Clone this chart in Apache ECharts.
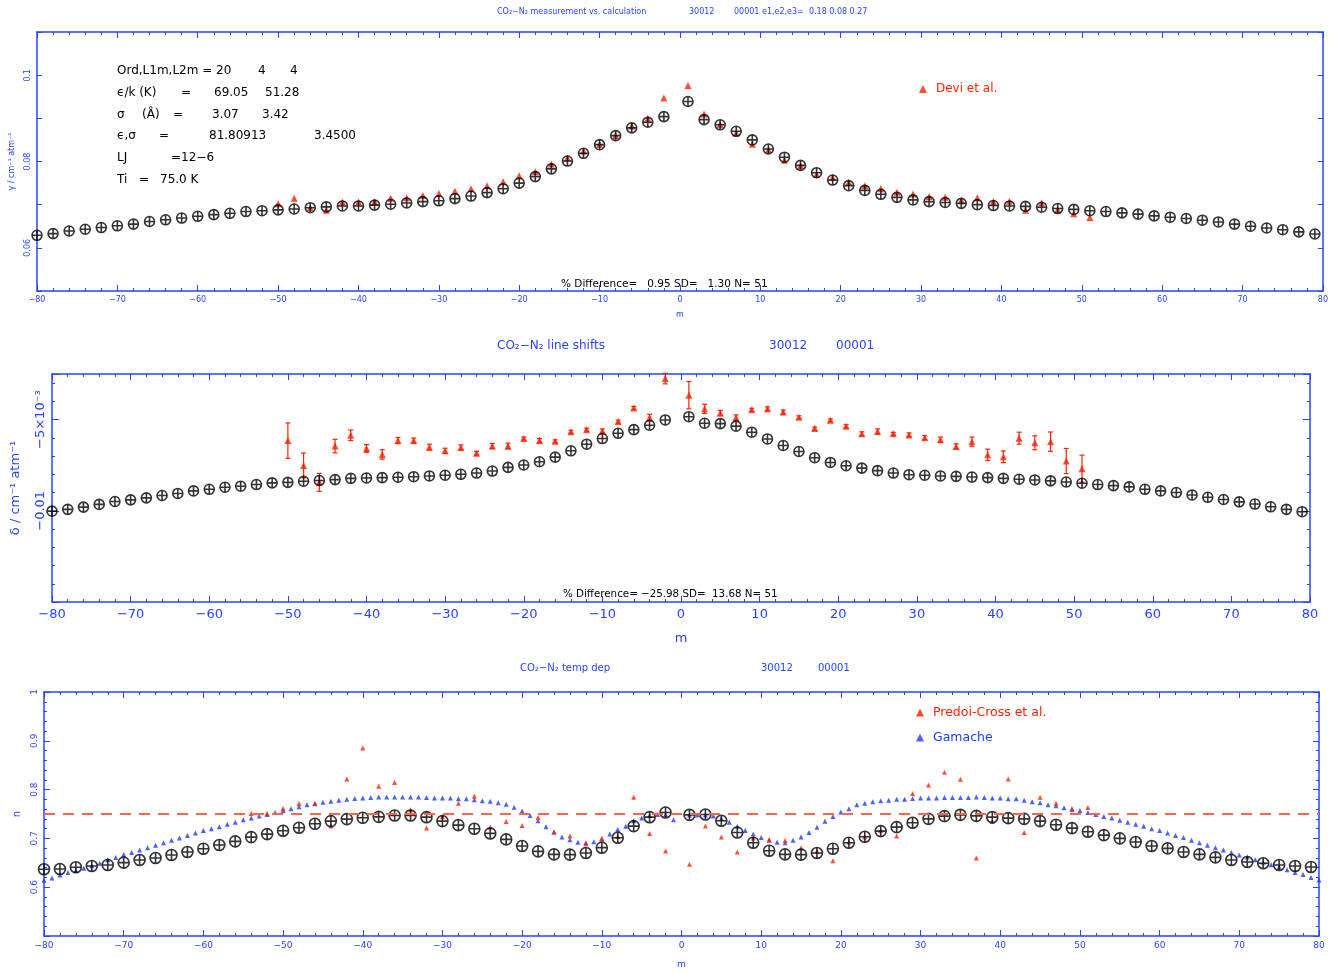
<!DOCTYPE html>
<html>
<head>
<meta charset="utf-8">
<script src="https://cdn.jsdelivr.net/npm/echarts@6/dist/echarts.min.js"></script>
<style>
html,body{margin:0;padding:0;background:#fff;}
#chart{width:1331px;height:973px;}
</style>
</head>
<body>
<div id="chart"></div>
<script>
// ---------- DATA ----------
const mCalc = [-80,-78,-76,-74,-72,-70,-68,-66,-64,-62,-60,-58,-56,-54,-52,-50,-48,-46,-44,-42,-40,-38,-36,-34,-32,-30,-28,-26,-24,-22,-20,-18,-16,-14,-12,-10,-8,-6,-4,-2,
  1,3,5,7,9,11,13,15,17,19,21,23,25,27,29,31,33,35,37,39,41,43,45,47,49,51,53,55,57,59,61,63,65,67,69,71,73,75,77,79];

const gammaCalc = [0.0629,0.0633,0.0639,0.0643,0.0647,0.0651,0.0655,0.0661,0.0665,0.0669,0.0673,0.0677,0.0680,0.0684,0.0686,0.0688,0.0690,0.0693,0.0695,0.0697,0.0697,0.0699,0.0701,0.0704,0.0707,0.0709,0.0714,0.0720,0.0728,0.0737,0.0750,0.0765,0.0783,0.0801,0.0819,0.0839,0.0860,0.0878,0.0891,0.0904,
  0.0939,0.0897,0.0885,0.0870,0.0850,0.0829,0.0810,0.0791,0.0774,0.0757,0.0744,0.0733,0.0724,0.0717,0.0711,0.0707,0.0705,0.0703,0.0700,0.0698,0.0697,0.0696,0.0694,0.0691,0.0689,0.0686,0.0684,0.0681,0.0678,0.0674,0.0671,0.0668,0.0664,0.0660,0.0655,0.0650,0.0646,0.0642,0.0637,0.0632];

const mDevi = [-50,-48,-46,-44,-42,-40,-38,-36,-34,-32,-30,-28,-26,-24,-22,-20,-18,-16,-14,-12,-10,-8,-6,-4,-2,
  1,3,5,7,9,11,13,15,17,19,21,23,25,27,29,31,33,35,37,39,41,43,45,47,49,51];

const gammaDevi = [0.0702,0.0715,0.0693,0.0687,0.0706,0.0706,0.0707,0.0715,0.0716,0.0721,0.0726,0.0731,0.0737,0.0744,0.0753,0.0767,0.0776,0.0794,0.0808,0.0824,0.0840,0.0860,0.0882,0.0900,0.0947,
  0.0976,0.0910,0.0886,0.0866,0.0840,0.0827,0.0803,0.0791,0.0770,0.0763,0.0752,0.0744,0.0737,0.0729,0.0725,0.0719,0.0717,0.0710,0.0716,0.0707,0.0708,0.0687,0.0704,0.0688,0.0679,0.0670];

const shiftCalc = [-0.01002,-0.00992,-0.00980,-0.00965,-0.00949,-0.00940,-0.00929,-0.00916,-0.00905,-0.00891,-0.00882,-0.00871,-0.00865,-0.00856,-0.00847,-0.00844,-0.00838,-0.00834,-0.00829,-0.00822,-0.00820,-0.00818,-0.00816,-0.00813,-0.00809,-0.00805,-0.00800,-0.00793,-0.00782,-0.00762,-0.00749,-0.00731,-0.00706,-0.00671,-0.00635,-0.00604,-0.00575,-0.00555,-0.00531,-0.00502,
  -0.00484,-0.00520,-0.00522,-0.00536,-0.00569,-0.00606,-0.00642,-0.00675,-0.00709,-0.00735,-0.00753,-0.00766,-0.00780,-0.00793,-0.00802,-0.00805,-0.00809,-0.00811,-0.00815,-0.00818,-0.00822,-0.00827,-0.00831,-0.00836,-0.00842,-0.00849,-0.00856,-0.00862,-0.00869,-0.00882,-0.00891,-0.00900,-0.00913,-0.00926,-0.00938,-0.00951,-0.00963,-0.00978,-0.00992,-0.01005];

const shiftDevi = [-0.00615,-0.00751,-0.00844,-0.00645,-0.00586,-0.00658,-0.00691,-0.00615,-0.00615,-0.00651,-0.00671,-0.00653,-0.00685,-0.00645,-0.00645,-0.00604,-0.00615,-0.00619,-0.00567,-0.00555,-0.00562,-0.00511,-0.00436,-0.00489,-0.00275,
  -0.00366,-0.00441,-0.00464,-0.00489,-0.00446,-0.00441,-0.00459,-0.00487,-0.00549,-0.00504,-0.00536,-0.00578,-0.00565,-0.00578,-0.00584,-0.00599,-0.00610,-0.00647,-0.00621,-0.00693,-0.00704,-0.00602,-0.00627,-0.00621,-0.00727,-0.00769];

const shiftDeviErr = [0.00097,0.00068,0.00049,0.00037,0.00029,0.00021,0.00026,0.00017,0.00014,0.00016,0.00014,0.00014,0.00011,0.00014,0.00016,0.00008,0.00011,0.00008,0.00008,0.00008,0.00011,0.00008,0.00008,0.00018,0.00029,
  0.00075,0.00025,0.00015,0.00015,0.00008,0.00011,0.00011,0.00008,0.00008,0.00008,0.00008,0.00011,0.00014,0.00008,0.00011,0.00011,0.00014,0.00014,0.00025,0.00031,0.00032,0.00033,0.00038,0.00053,0.00069,0.00074];

const nCalc = [0.6367,0.6374,0.6408,0.6435,0.6456,0.6503,0.6558,0.6599,0.6660,0.6721,0.6789,0.6864,0.6939,0.7027,0.7088,0.7156,0.7218,0.7299,0.7354,0.7395,0.7422,0.7442,0.7469,0.7469,0.7435,0.7354,0.7272,0.7197,0.7102,0.6980,0.6844,0.6735,0.6673,0.6667,0.6701,0.6810,0.7014,0.7252,0.7435,0.7531,
  0.7483,0.7490,0.7361,0.7122,0.6912,0.6748,0.6673,0.6667,0.6701,0.6789,0.6912,0.7034,0.7150,0.7231,0.7320,0.7401,0.7456,0.7483,0.7462,0.7435,0.7415,0.7401,0.7354,0.7279,0.7211,0.7136,0.7068,0.7000,0.6925,0.6844,0.6796,0.6721,0.6673,0.6612,0.6558,0.6517,0.6490,0.6456,0.6435,0.6415];

const mPredoi = [-54,-52,-50,-48,-46,-44,-42,-40,-38,-36,-34,-32,-30,-28,-26,-24,-22,-20,-18,-16,-14,-12,-10,-8,-6,-4,-2,
  1,3,5,7,9,11,13,15,17,19,21,23,25,27,29,31,33,35,37,39,41,43,45,47,49,51];

const nPredoi = [0.751,0.751,0.7612,0.7714,0.7721,0.7252,0.8218,0.8850,0.8068,0.8143,0.7585,0.7211,0.7442,0.7721,0.7864,0.7231,0.7347,0.7265,0.7429,0.7129,0.7048,0.6892,0.7000,0.7041,0.7843,0.7102,0.6741,
  0.6469,0.7252,0.7027,0.6721,0.7007,0.6980,0.6959,0.6810,0.6741,0.6544,0.6925,0.7034,0.7163,0.7048,0.7918,0.8095,0.8354,0.8211,0.6599,0.7347,0.8218,0.7122,0.7843,0.7721,0.7612,0.7633];

const mGamache = [-80,-79,-78,-77,-76,-75,-74,-73,-72,-71,-70,-69,-68,-67,-66,-65,-64,-63,-62,-61,-60,-59,-58,-57,-56,-55,-54,-53,-52,-51,-50,-49,-48,-47,-46,-45,-44,-43,-42,-41,
  -40,-39,-38,-37,-36,-35,-34,-33,-32,-31,-30,-29,-28,-27,-26,-25,-24,-23,-22,-21,-20,-19,-18,-17,-16,-15,-14,-13,-12,-11,-10,-9,-8,-7,-6,-5,-4,-3,-2,-1,
  1,2,3,4,5,6,7,8,9,10,11,12,13,14,15,16,17,18,19,20,21,22,23,24,25,26,27,28,29,30,31,32,33,34,35,36,37,38,39,40,
  41,42,43,44,45,46,47,48,49,50,51,52,53,54,55,56,57,58,59,60,61,62,63,64,65,66,67,68,69,70,71,72,73,74,75,76,77,78,79,80];

const nGamache = [0.614,0.619,0.625,0.630,0.634,0.639,0.644,0.649,0.656,0.661,0.667,0.671,0.676,0.681,0.686,0.691,0.696,0.701,0.706,0.711,
  0.716,0.720,0.724,0.729,0.733,0.738,0.742,0.746,0.749,0.753,0.757,0.761,0.765,0.769,0.771,0.774,0.776,0.778,0.780,0.782,
  0.783,0.784,0.785,0.785,0.785,0.785,0.785,0.785,0.784,0.783,0.783,0.783,0.781,0.781,0.779,0.777,0.776,0.773,0.770,0.764,
  0.756,0.747,0.736,0.724,0.713,0.703,0.697,0.692,0.691,0.693,0.699,0.709,0.718,0.725,0.736,0.742,0.747,0.749,0.749,0.738,
  0.748,0.748,0.748,0.746,0.741,0.733,0.725,0.716,0.709,0.702,0.696,0.692,0.691,0.696,0.703,0.712,0.723,0.735,0.745,0.754,
  0.761,0.769,0.772,0.775,0.777,0.778,0.780,0.780,0.782,0.783,0.783,0.783,0.784,0.784,0.784,0.784,0.785,0.784,0.783,0.783,
  0.781,0.781,0.778,0.775,0.773,0.769,0.767,0.763,0.759,0.757,0.753,0.749,0.745,0.742,0.737,0.733,0.729,0.725,0.720,0.716,
  0.711,0.706,0.702,0.696,0.691,0.686,0.681,0.676,0.671,0.666,0.662,0.656,0.651,0.646,0.642,0.636,0.630,0.626,0.620,0.615];

const nReference = 0.75;

// ---------- STYLE ----------
const AX = '#2444ff';
const RED = '#ff2200';
const BLUE = '#1a3cff';
const FONT = 'DejaVu Sans';
const crossCircle = 'path://M10,0A10,10,0,1,1,10,20A10,10,0,1,1,10,0ZM0,10L20,10M10,0L10,20';

function zip(xs, ys) { return xs.map((x, i) => [x, ys[i]]); }
function zip3(xs, ys, es) { return xs.map((x, i) => [x, ys[i], es[i]]); }
function minus(s) { return String(s).replace('-', '\u2212'); }

function xAxes(grid, fs, margin, nameGap) {
  const base = {
    gridIndex: grid, type: 'value', min: -80, max: 80, interval: 10,
    axisLine: { show: true, onZero: false, lineStyle: { color: AX, width: 1.5 } },
    axisTick: { show: true, inside: true, length: 6, lineStyle: { color: AX, width: 1 } },
    minorTick: { show: true, splitNumber: 5, length: 3, lineStyle: { color: AX, width: 1 } },
    splitLine: { show: false }
  };
  return [
    Object.assign({}, base, {
      position: 'bottom',
      name: 'm', nameLocation: 'middle', nameGap: nameGap,
      nameTextStyle: { color: AX, fontSize: fs, fontFamily: FONT },
      axisLabel: { color: AX, fontSize: fs, fontFamily: FONT, margin: margin, formatter: v => minus(v) }
    }),
    Object.assign({}, base, { position: 'top', axisLabel: { show: false } })
  ];
}

function yAxes(grid, cfg) {
  const base = {
    gridIndex: grid, type: 'value', min: cfg.min, max: cfg.max, interval: cfg.interval,
    axisLine: { show: true, onZero: false, lineStyle: { color: AX, width: 1.5 } },
    axisTick: { show: true, inside: true, length: cfg.tickLen, lineStyle: { color: AX, width: 1 } },
    minorTick: cfg.minor ? { show: true, splitNumber: cfg.minor, length: 3, lineStyle: { color: AX, width: 1 } } : { show: false },
    splitLine: { show: false }
  };
  return [
    Object.assign({}, base, {
      position: 'left',
      name: cfg.name, nameLocation: 'middle', nameGap: cfg.nameGap, nameRotate: 90,
      nameTextStyle: { color: AX, fontSize: cfg.nameSize, fontFamily: FONT },
      axisLabel: { color: AX, fontSize: cfg.fs, fontFamily: FONT, rotate: 90, margin: cfg.margin, formatter: cfg.fmt, showMinLabel: true, showMaxLabel: true }
    }),
    Object.assign({}, base, { position: 'right', axisLabel: { show: false } })
  ];
}

const calcStyle = { color: 'rgba(0,0,0,0)', borderColor: '#000', borderWidth: 1.6 };

const option = {
  backgroundColor: '#fff',
  animation: false,
  grid: [
    { left: 37, right: 6, top: 32, height: 259 },
    { left: 52, right: 21, top: 374, height: 228 },
    { left: 44, right: 12, top: 692, height: 244 }
  ],
  xAxis: [].concat(xAxes(0, 8, 5, 20), xAxes(1, 13, 6, 30), xAxes(2, 9, 5, 24)),
  yAxis: [].concat(
    yAxes(0, { min: 0.05, max: 0.11, interval: 0.01, tickLen: 5, fs: 8, margin: 5, name: '\u03b3 / cm\u207b\u00b9 atm\u207b\u00b9', nameSize: 8, nameGap: 17,
      fmt: v => { const k = Math.round(v * 100); return (k === 6 || k === 8) ? '0.0' + k : (k === 10 ? '0.1' : ''); } }),
    yAxes(1, { min: -0.015, max: -0.0025, interval: 0.005, minor: 5, tickLen: 7, fs: 13, margin: 5, name: '\u03b4 / cm\u207b\u00b9 atm\u207b\u00b9', nameSize: 13, nameGap: 30,
      fmt: v => { const k = Math.round(v * 1000); return k === -10 ? '\u22120.01' : (k === -5 ? '\u22125\u00d710\u207b\u00b3' : ''); } }),
    yAxes(2, { min: 0.5, max: 1, interval: 0.1, minor: 5, tickLen: 6, fs: 9, margin: 5, name: 'n', nameSize: 10, nameGap: 20,
      fmt: v => { const k = Math.round(v * 10); return k === 5 ? '' : (k === 10 ? '1' : (k / 10).toFixed(1)); } })
  ),
  legend: [
    { left: 919, top: 83, padding: 0, icon: 'triangle', itemWidth: 8, itemHeight: 8, itemGap: 5,
      data: [{ name: 'Devi et al.', textStyle: { color: RED } }],
      textStyle: { fontFamily: FONT, fontSize: 12, padding: [0, 0, 0, 4] } },
    { left: 916, top: 706, padding: 0, orient: 'vertical', icon: 'triangle', itemWidth: 8, itemHeight: 8, itemGap: 12,
      data: [{ name: 'Predoi-Cross et al.', textStyle: { color: RED } }, { name: 'Gamache', textStyle: { color: BLUE } }],
      textStyle: { fontFamily: FONT, fontSize: 12.5, padding: [0, 0, 0, 4] } }
  ],
  series: [
    // top panel
    { name: 'Devi et al.', type: 'scatter', xAxisIndex: 0, yAxisIndex: 0, symbol: 'triangle', symbolSize: 7,
      itemStyle: { color: RED }, data: zip(mDevi, gammaDevi), clip: false, z: 3 },
    { name: 'calc width', type: 'scatter', xAxisIndex: 0, yAxisIndex: 0, symbol: crossCircle, symbolSize: 10,
      itemStyle: calcStyle, data: zip(mCalc, gammaCalc), clip: false, z: 4 },
    // middle panel
    { name: 'Devi shift err', type: 'custom', xAxisIndex: 2, yAxisIndex: 2, clip: false, z: 3,
      data: zip3(mDevi, shiftDevi, shiftDeviErr), encode: { x: 0, y: 1 },
      renderItem: function (params, api) {
        const x = api.value(0), y = api.value(1), e = api.value(2);
        const p1 = api.coord([x, y + e]), p2 = api.coord([x, y - e]);
        const c = 2.5, st = { stroke: RED, lineWidth: 1.2 };
        return { type: 'group', children: [
          { type: 'line', shape: { x1: p1[0], y1: p1[1], x2: p2[0], y2: p2[1] }, style: st },
          { type: 'line', shape: { x1: p1[0] - c, y1: p1[1], x2: p1[0] + c, y2: p1[1] }, style: st },
          { type: 'line', shape: { x1: p2[0] - c, y1: p2[1], x2: p2[0] + c, y2: p2[1] }, style: st }
        ] };
      } },
    { name: 'Devi shift', type: 'scatter', xAxisIndex: 2, yAxisIndex: 2, symbol: 'triangle', symbolSize: 7,
      itemStyle: { color: RED }, data: zip(mDevi, shiftDevi), clip: false, z: 3 },
    { name: 'calc shift', type: 'scatter', xAxisIndex: 2, yAxisIndex: 2, symbol: crossCircle, symbolSize: 10,
      itemStyle: calcStyle, data: zip(mCalc, shiftCalc), clip: false, z: 4 },
    // bottom panel
    { name: 'Gamache', type: 'scatter', xAxisIndex: 4, yAxisIndex: 4, symbol: 'triangle', symbolSize: 5,
      itemStyle: { color: BLUE }, data: zip(mGamache, nGamache), clip: false, z: 3,
      markLine: { silent: true, symbol: ['none', 'none'], label: { show: false },
        lineStyle: { color: '#ff6448', width: 2, type: [11, 8] },
        data: [{ yAxis: nReference }] } },
    { name: 'Predoi-Cross et al.', type: 'scatter', xAxisIndex: 4, yAxisIndex: 4, symbol: 'triangle', symbolSize: 5,
      itemStyle: { color: RED }, data: zip(mPredoi, nPredoi), clip: false, z: 3 },
    { name: 'calc n', type: 'scatter', xAxisIndex: 4, yAxisIndex: 4, symbol: crossCircle, symbolSize: 11,
      itemStyle: calcStyle, data: zip(mCalc, nCalc), clip: false, z: 4 }
  ],
  graphic: []
};

function txt(x, y, s, size, color) {
  return { type: 'text', x: x, y: y, silent: true, z: 10,
    style: { text: s, fill: color, font: size + 'px "' + FONT + '"', verticalAlign: 'middle', align: 'left' } };
}
const K = '#000';
option.graphic = [
  // titles
  txt(497, 12, 'CO\u2082\u2212N\u2082 measurement vs. calculation', 8, AX),
  txt(689, 12, '30012', 8, AX),
  txt(734, 12, '00001 e1,e2,e3=  0.18 0.08 0.27', 8, AX),
  txt(497, 346, 'CO\u2082\u2212N\u2082 line shifts', 12, AX),
  txt(769, 346, '30012', 12, AX),
  txt(836, 346, '00001', 12, AX),
  txt(520, 668, 'CO\u2082\u2212N\u2082 temp dep', 10, AX),
  txt(761, 668, '30012', 10, AX),
  txt(818, 668, '00001', 10, AX),
  // parameter block
  txt(117, 71, 'Ord,L1m,L2m =', 12, K), txt(216, 71, '20', 12, K), txt(258, 71, '4', 12, K), txt(290, 71, '4', 12, K),
  txt(117, 93, '\u03f5/k (K)', 12, K), txt(181, 93, '=', 12, K), txt(214, 93, '69.05', 12, K), txt(265, 93, '51.28', 12, K),
  txt(117, 115, '\u03c3', 12, K), txt(142, 115, '(\u00c5)', 12, K), txt(173, 115, '=', 12, K), txt(212, 115, '3.07', 12, K), txt(262, 115, '3.42', 12, K),
  txt(117, 136, '\u03f5,\u03c3', 12, K), txt(159, 136, '=', 12, K), txt(209, 136, '81.80913', 12, K), txt(314, 136, '3.4500', 12, K),
  txt(117, 158, 'LJ', 12, K), txt(171, 158, '=12\u22126', 12, K),
  txt(117, 180, 'Ti', 12, K), txt(139, 180, '=', 12, K), txt(160, 180, '75.0 K', 12, K),
  // statistics
  txt(561, 284, '% Difference=   0.95 SD=   1.30 N= 51', 10.5, K),
  txt(563, 594, '% Difference= \u221225.98 SD=  13.68 N= 51', 10.3, K)
];

const chart = echarts.init(document.getElementById('chart'), null, { renderer: 'canvas' });
chart.setOption(option);
</script>
</body>
</html>
